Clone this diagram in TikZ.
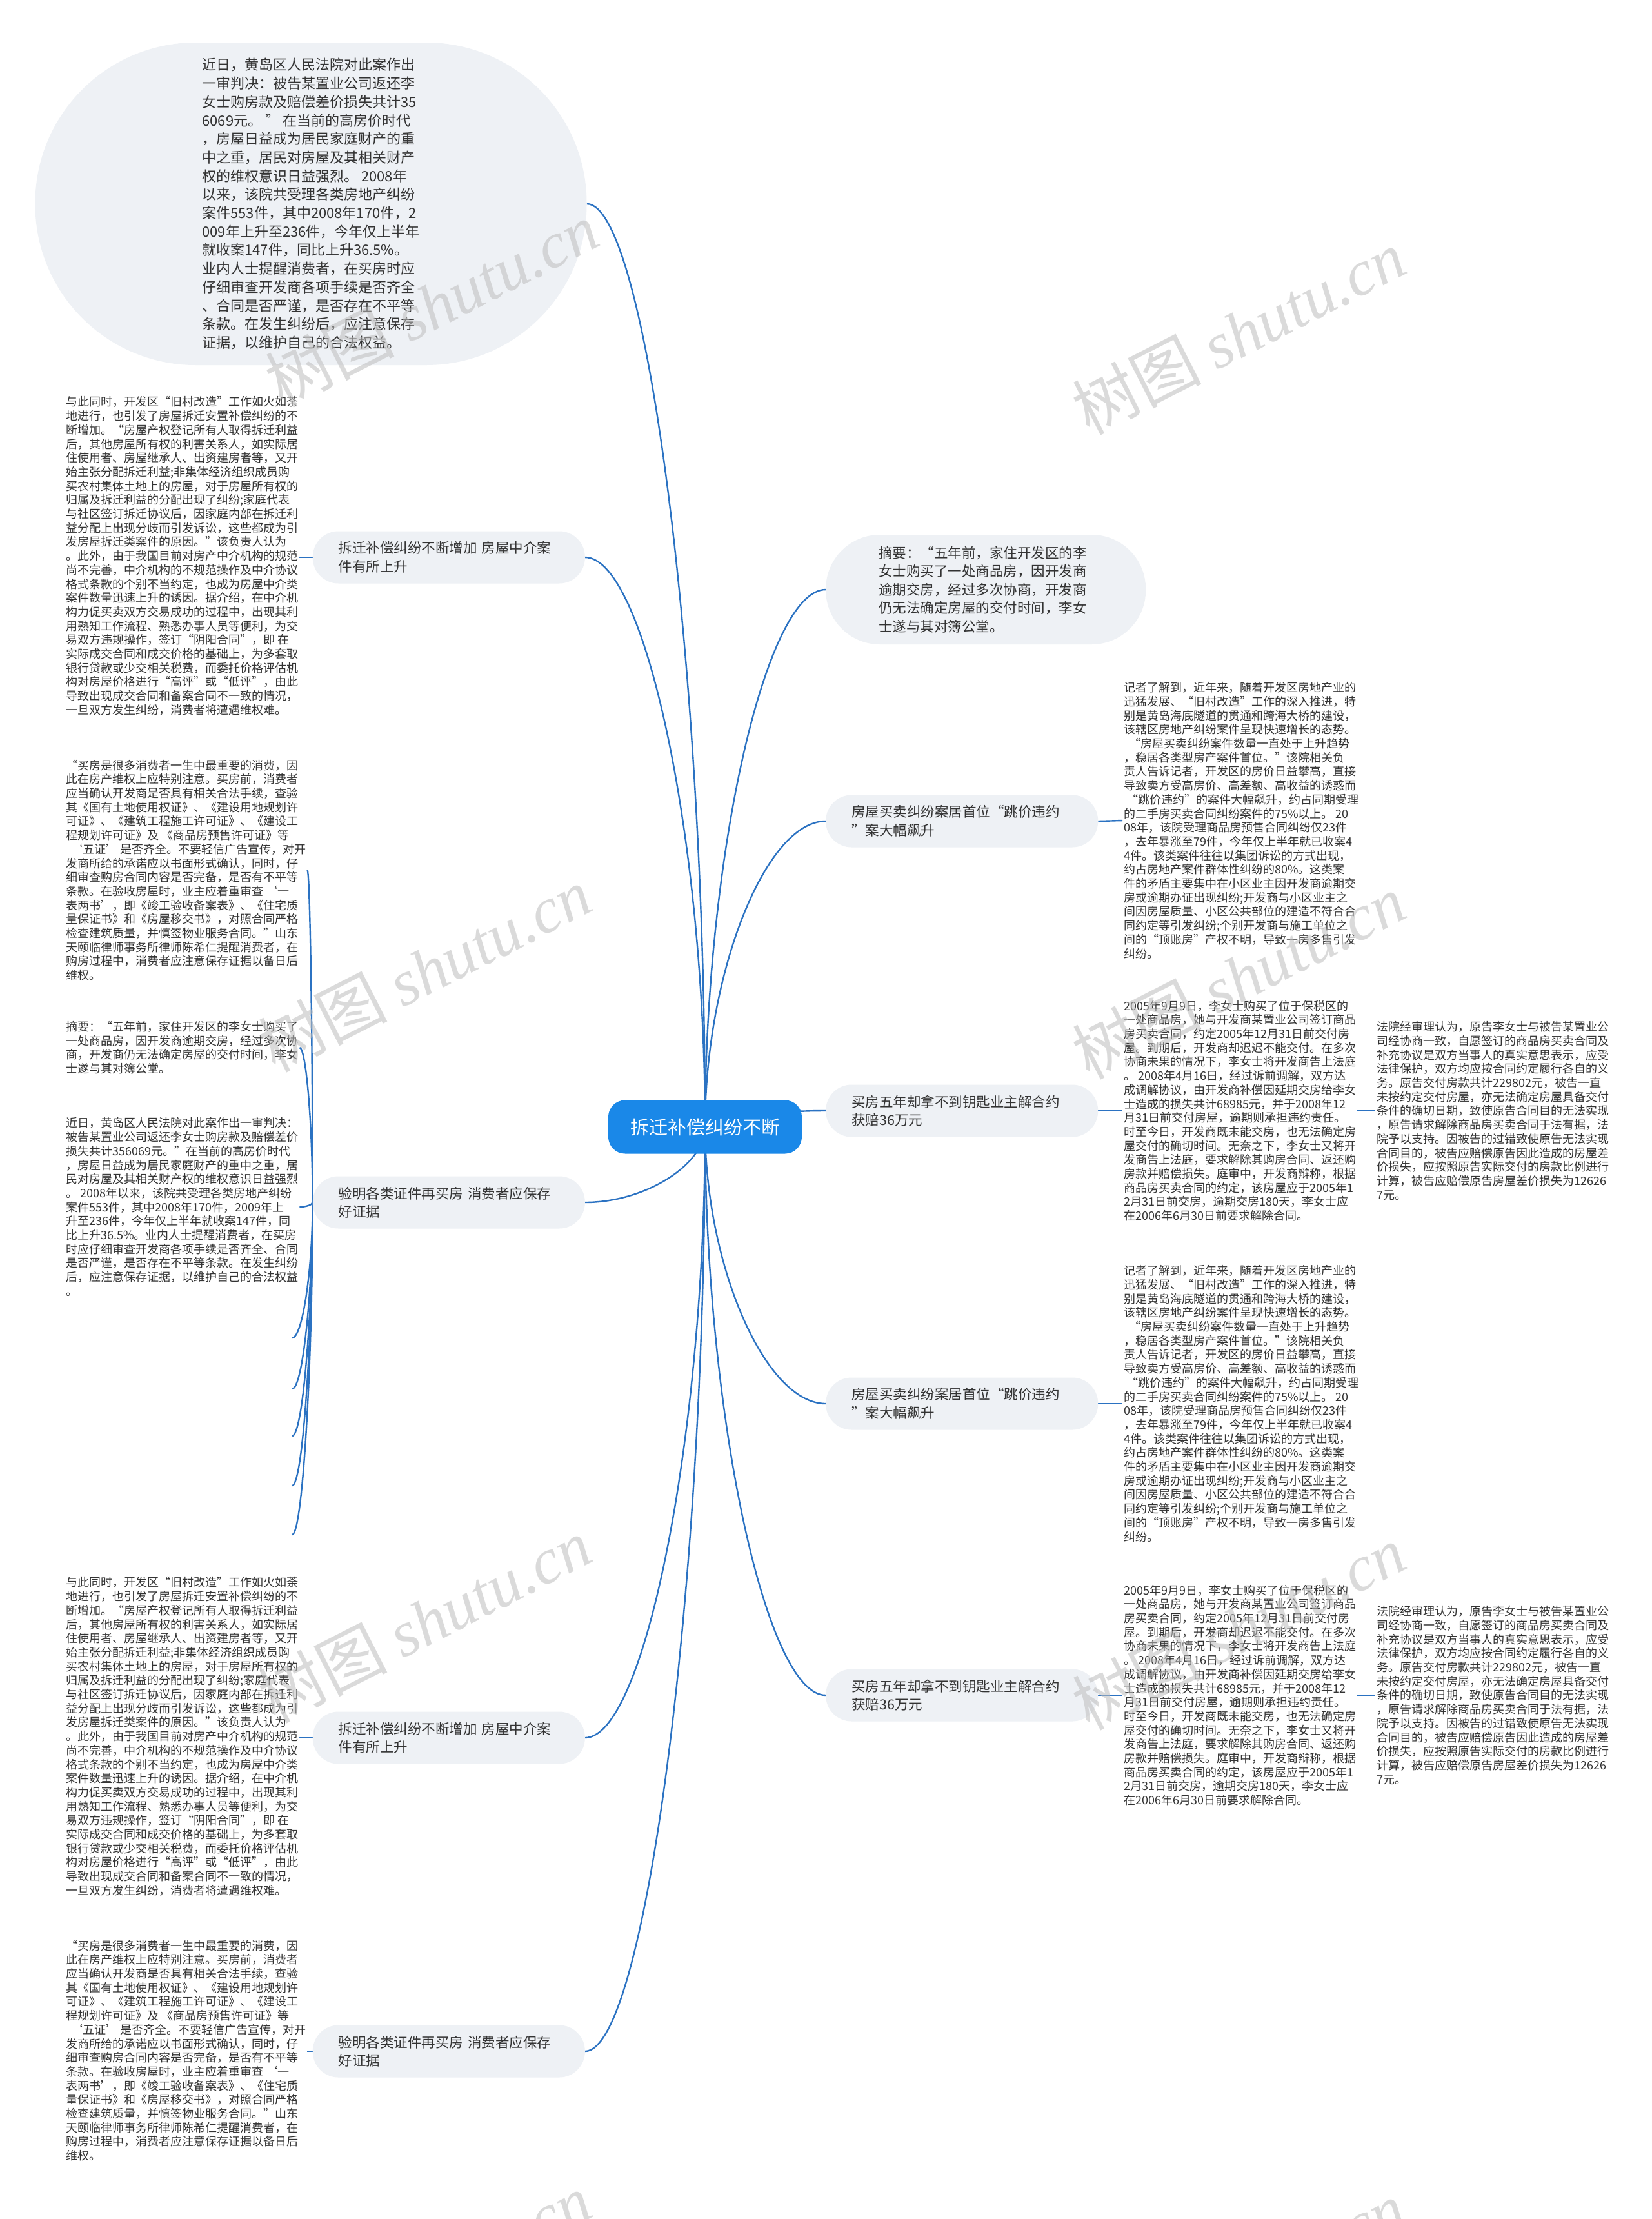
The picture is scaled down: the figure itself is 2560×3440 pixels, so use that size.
\documentclass[tikz,border=0pt]{standalone}
\usepackage{fontspec}
\setmainfont{Noto Sans CJK SC}
\newfontfamily\wmserif{Liberation Serif}
\usepackage{xcolor}
\usepackage{tikz}
\usetikzlibrary{positioning, calc, backgrounds}
\definecolor{MapBlue}{HTML}{1A88E8}
\definecolor{LinkBlue}{HTML}{2B72C2}
\definecolor{TopicGray}{HTML}{EEF1F5}
\definecolor{InkGray}{HTML}{333333}
\definecolor{StampGray}{HTML}{BDBDBD}

% repeated leaf texts
\newcommand\txtDemol{与此同时，开发区“旧村改造”工作如火如荼\\
地进行，也引发了房屋拆迁安置补偿纠纷的不\\
断增加。“房屋产权登记所有人取得拆迁利益\\
后，其他房屋所有权的利害关系人，如实际居\\
住使用者、房屋继承人、出资建房者等，又开\\
始主张分配拆迁利益;非集体经济组织成员购\\
买农村集体土地上的房屋，对于房屋所有权的\\
归属及拆迁利益的分配出现了纠纷;家庭代表\\
与社区签订拆迁协议后，因家庭内部在拆迁利\\
益分配上出现分歧而引发诉讼，这些都成为引\\
发房屋拆迁类案件的原因。”该负责人认为\\
。此外，由于我国目前对房产中介机构的规范\\
尚不完善，中介机构的不规范操作及中介协议\\
格式条款的个别不当约定，也成为房屋中介类\\
案件数量迅速上升的诱因。据介绍，在中介机\\
构力促买卖双方交易成功的过程中，出现其利\\
用熟知工作流程、熟悉办事人员等便利，为交\\
易双方违规操作，签订“阴阳合同”，即 在\\
实际成交合同和成交价格的基础上，为多套取\\
银行贷款或少交相关税费，而委托价格评估机\\
构对房屋价格进行“高评”或“低评”，由此\\
导致出现成交合同和备案合同不一致的情况，\\
一旦双方发生纠纷，消费者将遭遇维权难。}

\newcommand\txtBuyer{“买房是很多消费者一生中最重要的消费，因\\
此在房产维权上应特别注意。买房前，消费者\\
应当确认开发商是否具有相关合法手续，查验\\
其《国有土地使用权证》、《建设用地规划许\\
可证》、《建筑工程施工许可证》、《建设工\\
程规划许可证》及 《商品房预售许可证》等\\
\hspace*{8pt}‘五证’ 是否齐全。不要轻信广告宣传，对开\\
发商所给的承诺应以书面形式确认，同时，仔\\
细审查购房合同内容是否完备，是否有不平等\\
条款。在验收房屋时，业主应着重审查 ‘一\\
表两书’，即《竣工验收备案表》、《住宅质\\
量保证书》和《房屋移交书》，对照合同严格\\
检查建筑质量，并慎签物业服务合同。”山东\\
天颐临律师事务所律师陈希仁提醒消费者，在\\
购房过程中，消费者应注意保存证据以备日后\\
维权。}

\newcommand\txtReport{记者了解到，近年来，随着开发区房地产业的\\
迅猛发展、“旧村改造”工作的深入推进，特\\
别是黄岛海底隧道的贯通和跨海大桥的建设，\\
该辖区房地产纠纷案件呈现快速增长的态势。\\
\hspace*{8pt}“房屋买卖纠纷案件数量一直处于上升趋势\\
，稳居各类型房产案件首位。”该院相关负\\
责人告诉记者，开发区的房价日益攀高，直接\\
导致卖方受高房价、高差额、高收益的诱惑而\\
\hspace*{4pt}“跳价违约”的案件大幅飙升，约占同期受理\\
的二手房买卖合同纠纷案件的75\%以上。 20\\
08年，该院受理商品房预售合同纠纷仅23件\\
，去年暴涨至79件，今年仅上半年就已收案4\\
4件。该类案件往往以集团诉讼的方式出现，\\
约占房地产案件群体性纠纷的80\%。这类案\\
件的矛盾主要集中在小区业主因开发商逾期交\\
房或逾期办证出现纠纷;开发商与小区业主之\\
间因房屋质量、小区公共部位的建造不符合合\\
同约定等引发纠纷;个别开发商与施工单位之\\
间的“顶账房”产权不明，导致一房多售引发\\
纠纷。}

\newcommand\txtCase{2005年9月9日，李女士购买了位于保税区的\\
一处商品房，她与开发商某置业公司签订商品\\
房买卖合同，约定2005年12月31日前交付房\\
屋。到期后，开发商却迟迟不能交付。在多次\\
协商未果的情况下，李女士将开发商告上法庭\\
。 2008年4月16日，经过诉前调解，双方达\\
成调解协议，由开发商补偿因延期交房给李女\\
士造成的损失共计68985元，并于2008年12\\
月31日前交付房屋，逾期则承担违约责任。\\
时至今日，开发商既未能交房，也无法确定房\\
屋交付的确切时间。无奈之下，李女士又将开\\
发商告上法庭，要求解除其购房合同、返还购\\
房款并赔偿损失。庭审中，开发商辩称，根据\\
商品房买卖合同的约定，该房屋应于2005年1\\
2月31日前交房，逾期交房180天，李女士应\\
在2006年6月30日前要求解除合同。}

\newcommand\txtCourt{法院经审理认为，原告李女士与被告某置业公\\
司经协商一致，自愿签订的商品房买卖合同及\\
补充协议是双方当事人的真实意思表示，应受\\
法律保护，双方均应按合同约定履行各自的义\\
务。原告交付房款共计229802元，被告一直\\
未按约定交付房屋，亦无法确定房屋具备交付\\
条件的确切日期，致使原告合同目的无法实现\\
，原告请求解除商品房买卖合同于法有据，法\\
院予以支持。因被告的过错致使原告无法实现\\
合同目的，被告应赔偿原告因此造成的房屋差\\
价损失，应按照原告实际交付的房款比例进行\\
计算，被告应赔偿原告房屋差价损失为12626\\
7元。}

\tikzset{
  branch/.style={to path={.. controls ($(\tikztostart)!0.5!(\tikztostart|-\tikztotarget)$)
      and ($(\tikztotarget)!0.5!(\tikztotarget-|\tikztostart)$) .. (\tikztotarget)}},
}

\begin{document}
\begin{tikzpicture}[x=1pt, y=-1pt,
  hub/.style={fill=MapBlue, text=white, rounded corners=26pt, minimum width=300pt,
    minimum height=83pt, font=\fontsize{29}{35}\selectfont},
  topic/.style={fill=TopicGray, text=InkGray, rounded corners=40pt, align=left,
    text width=342pt, inner xsep=40pt, minimum height=81pt,
    font=\fontsize{21.5}{28.5}\selectfont},
  leaf/.style={text=InkGray, align=left, inner sep=2pt, font=\fontsize{18}{21.7}\selectfont},
  link/.style={draw=LinkBlue, line width=2.4pt},
  stamp/.style={rotate=27, text=StampGray, opacity=0.55, font=\fontsize{100}{100}\selectfont}]
  \useasboundingbox (0,0) rectangle (2560,3440);

  % centre topic
  \node[hub] (root) at (1093,1747) {拆迁补偿纠纷不断};

  % left side
  \node[fill=TopicGray, text=InkGray, rounded corners=249pt, minimum width=855pt,
    minimum height=500pt, align=left, font=\fontsize{22}{28.7}\selectfont] (verdict) at (482,316)
    {近日，黄岛区人民法院对此案作出\\
     一审判决：被告某置业公司返还李\\
     女士购房款及赔偿差价损失共计35\\
     6069元。 ” 在当前的高房价时代\\
     ，房屋日益成为居民家庭财产的重\\
     中之重，居民对房屋及其相关财产\\
     权的维权意识日益强烈。 2008年\\
     以来，该院共受理各类房地产纠纷\\
     案件553件，其中2008年170件，2\\
     009年上升至236件，今年仅上半年\\
     就收案147件，同比上升36.5\%。\\
     业内人士提醒消费者，在买房时应\\
     仔细审查开发商各项手续是否齐全\\
     、合同是否严谨，是否存在不平等\\
     条款。在发生纠纷后，应注意保存\\
     证据，以维护自己的合法权益。};
  \node[topic, anchor=east] (demolA) at (907,864) {拆迁补偿纠纷不断增加 房屋中介案\\件有所上升};
  \node[topic, anchor=east] (proofA) at (907,1864) {验明各类证件再买房 消费者应保存\\好证据};
  \node[topic, anchor=east] (demolB) at (907,2694) {拆迁补偿纠纷不断增加 房屋中介案\\件有所上升};
  \node[topic, anchor=east] (proofB) at (907,3180) {验明各类证件再买房 消费者应保存\\好证据};

  \node[leaf, anchor=west] (demolAtxt) at (100,862) {\txtDemol};
  \node[leaf, anchor=west] (proofAtxt) at (100,1349) {\txtBuyer};
  \node[leaf, anchor=west] (proofAsum) at (100,1624)
    {摘要：“五年前，家住开发区的李女士购买了\\
     一处商品房，因开发商逾期交房，经过多次协\\
     商，开发商仍无法确定房屋的交付时间，李女\\
     士遂与其对簿公堂。};
  \node[leaf, anchor=west] (proofAnews) at (100,1871)
    {近日，黄岛区人民法院对此案作出一审判决：\\
     被告某置业公司返还李女士购房款及赔偿差价\\
     损失共计356069元。”在当前的高房价时代\\
     ，房屋日益成为居民家庭财产的重中之重，居\\
     民对房屋及其相关财产权的维权意识日益强烈\\
     。 2008年以来，该院共受理各类房地产纠纷\\
     案件553件，其中2008年170件，2009年上\\
     升至236件，今年仅上半年就收案147件，同\\
     比上升36.5\%。业内人士提醒消费者，在买房\\
     时应仔细审查开发商各项手续是否齐全、合同\\
     是否严谨，是否存在不平等条款。在发生纠纷\\
     后，应注意保存证据，以维护自己的合法权益\\
     。};
  % empty children below
  \foreach \ey [count=\j] in {2074, 2153, 2226, 2303, 2379}
    \coordinate (proofAend\j) at (453,\ey);
  \node[leaf, anchor=west] (demolBtxt) at (100,2692) {\txtDemol};
  \node[leaf, anchor=west] (proofBtxt) at (100,3179) {\txtBuyer};

  % right side
  \node[topic, anchor=west, text width=332pt, inner xsep=82pt, minimum height=170pt,
    rounded corners=84pt] (summary) at (1280,914)
    {摘要：“五年前，家住开发区的李\\女士购买了一处商品房，因开发商\\逾期交房，经过多次协商，开发商\\仍无法确定房屋的交付时间，李女\\士遂与其对簿公堂。};
  \node[topic, anchor=west] (saleA) at (1280,1273) {房屋买卖纠纷案居首位“跳价违约\\”案大幅飙升};
  \node[topic, anchor=west] (keyA) at (1280,1722) {买房五年却拿不到钥匙业主解合约\\获赔36万元};
  \node[topic, anchor=west] (saleB) at (1280,2176) {房屋买卖纠纷案居首位“跳价违约\\”案大幅飙升};
  \node[topic, anchor=west] (keyB) at (1280,2628) {买房五年却拿不到钥匙业主解合约\\获赔36万元};

  \node[leaf, anchor=west] (saleAtxt) at (1740,1272) {\txtReport};
  \node[leaf, anchor=west] (keyAtxt) at (1740,1722) {\txtCase};
  \node[leaf, anchor=west] (keyAcourt) at (2132,1722) {\txtCourt};
  \node[leaf, anchor=west] (saleBtxt) at (1740,2176) {\txtReport};
  \node[leaf, anchor=west] (keyBtxt) at (1740,2628) {\txtCase};
  \node[leaf, anchor=west] (keyBcourt) at (2132,2628) {\txtCourt};

  % connectors behind the topics
  \begin{scope}[on background layer]
    \fill[white] (0,0) rectangle (2560,3440);
    \foreach \kid in {verdict, demolA, proofA, demolB, proofB}
      \draw[link] (root.center) to[branch] (\kid.east);
    \foreach \kid in {summary, saleA, keyA, saleB, keyB}
      \draw[link] (root.center) to[branch] (\kid.west);
    \draw[link] (demolA.west) -- (demolAtxt.east |- demolA.west);
    \foreach \kid in {proofAtxt, proofAsum, proofAnews}
      \draw[link] (proofA.west) to[branch] (\kid.east);
    \foreach \j in {1,...,5}
      \draw[link] (proofA.west) to[branch] (proofAend\j);
    \draw[link] (demolB.west) -- (demolBtxt.east |- demolB.west);
    \draw[link] (proofB.west) -- (proofBtxt.east |- proofB.west);
    \draw[link] (saleA.east) -- (saleAtxt.west);
    \draw[link] (keyA.east) -- (keyAtxt.west);
    \draw[link] (keyAtxt.east) -- (keyAcourt.west);
    \draw[link] (saleB.east) -- (saleBtxt.west);
    \draw[link] (keyB.east) -- (keyBtxt.west);
    \draw[link] (keyBtxt.east) -- (keyBcourt.west);
  \end{scope}

  % watermark
  \foreach \wx/\wy [count=\i] in {669/472, 1920/515, 658/1503, 1920/1514, 658/2512, 1920/2523, 658/3528, 1920/3540}
    \node[stamp] (stamp\i) at (\wx,\wy) {树图 {\wmserif\itshape shutu.cn}};
\end{tikzpicture}
\end{document}
